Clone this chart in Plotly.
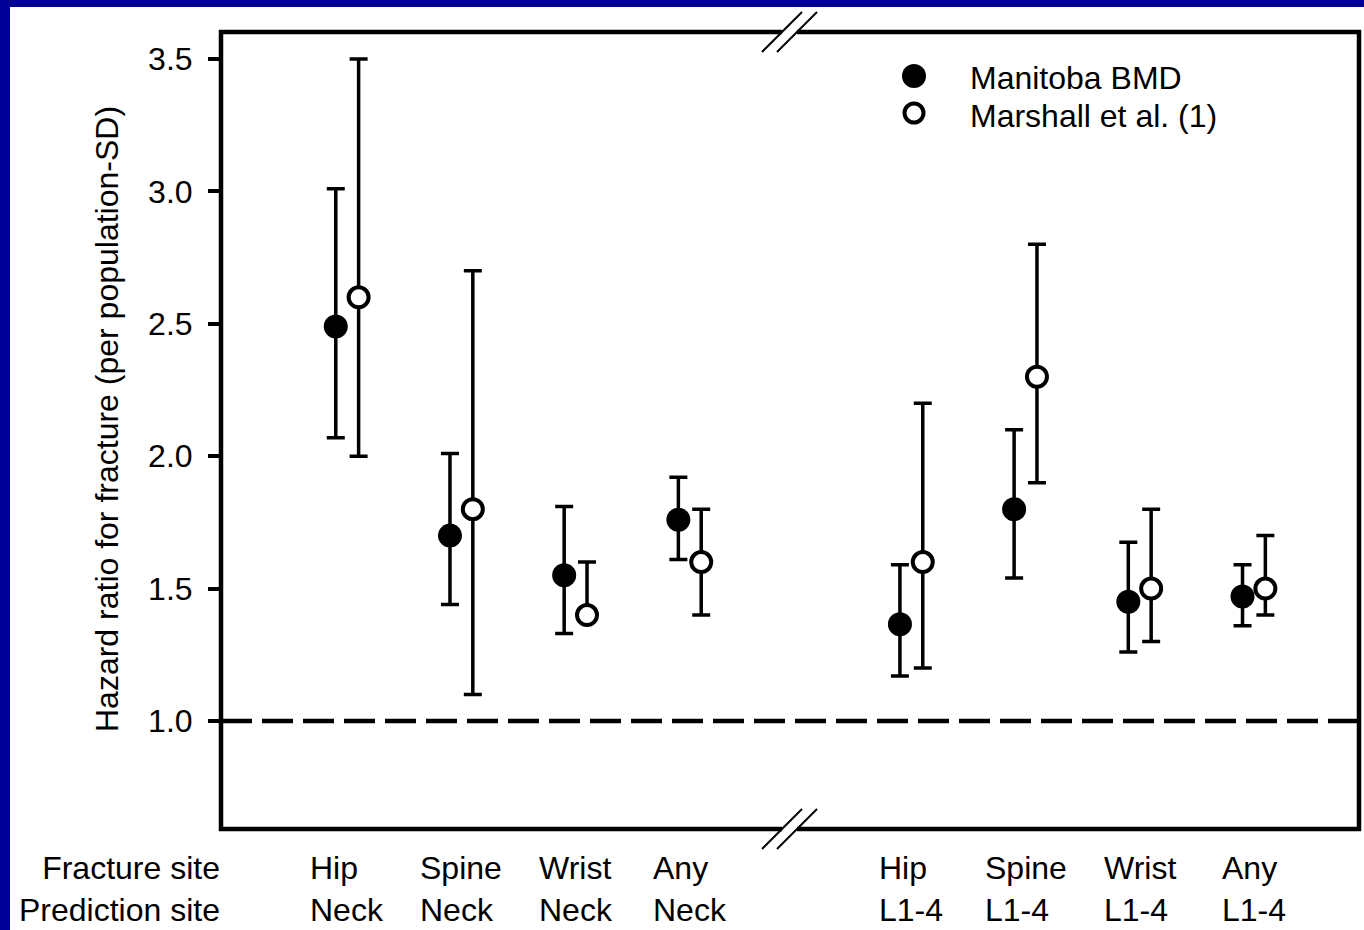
import plotly.graph_objects as go

# Hazard ratios per population-SD with 95% CI
fracture_site = ["Hip", "Spine", "Wrist", "Any", "Hip", "Spine", "Wrist", "Any"]
prediction_site = ["Neck", "Neck", "Neck", "Neck", "L1-4", "L1-4", "L1-4", "L1-4"]

manitoba_hr = [2.49, 1.70, 1.55, 1.76, 1.365, 1.80, 1.45, 1.47]
manitoba_lo = [2.07, 1.44, 1.33, 1.61, 1.17, 1.54, 1.26, 1.36]
manitoba_hi = [3.01, 2.01, 1.81, 1.92, 1.59, 2.10, 1.675, 1.59]

marshall_hr = [2.6, 1.8, 1.4, 1.6, 1.6, 2.3, 1.5, 1.5]
marshall_lo = [2.0, 1.1, 1.4, 1.4, 1.2, 1.9, 1.3, 1.4]
marshall_hi = [3.5, 2.7, 1.6, 1.8, 2.2, 2.8, 1.8, 1.7]

y_ticks = [1.0, 1.5, 2.0, 2.5, 3.0, 3.5]
series_names = ["Manitoba BMD", "Marshall et al. (1)"]

# ---- layout geometry (pixels) ----
W, H = 1364, 930
L, R, T, B = 221, 1359, 32, 829
FONT = dict(family="Liberation Sans, Arial, sans-serif", size=32, color="black")
BLUE = "#000099"

def px_x(p):
    return (p - L) / (R - L)

def px_y(p):
    return (B - p) / (B - T)

SECTION_GAP = 0.94
OFFSET = 0.1
pos = [i + (SECTION_GAP if prediction_site[i] == "L1-4" else 0.0)
       for i in range(len(fracture_site))]

fig = go.Figure()

fig.add_trace(go.Scatter(
    x=[p - OFFSET for p in pos], y=manitoba_hr, mode="markers",
    name=series_names[0],
    marker=dict(size=24, color="black", line=dict(width=0)),
    error_y=dict(type="data", symmetric=False,
                 array=[h - v for h, v in zip(manitoba_hi, manitoba_hr)],
                 arrayminus=[v - l for v, l in zip(manitoba_hr, manitoba_lo)],
                 color="black", thickness=3.5, width=9),
))
fig.add_trace(go.Scatter(
    x=[p + OFFSET for p in pos], y=marshall_hr, mode="markers",
    name=series_names[1],
    marker=dict(size=20, color="white", line=dict(width=4, color="black")),
    error_y=dict(type="data", symmetric=False,
                 array=[h - v for h, v in zip(marshall_hi, marshall_hr)],
                 arrayminus=[v - l for v, l in zip(marshall_hr, marshall_lo)],
                 color="black", thickness=3.5, width=9),
))

shapes = []
# reference line at HR = 1
shapes.append(dict(type="line", xref="paper", yref="y", x0=0, x1=1, y0=1.0, y1=1.0,
                   line=dict(color="black", width=4.5, dash="31px,10px"), layer="below"))

# frame with axis-break gap
BRK_L, BRK_R = 782, 797
lw = 4.5
for yy in (T, B):
    shapes.append(dict(type="line", xref="paper", yref="paper",
                       x0=px_x(L - 2), x1=px_x(BRK_L), y0=px_y(yy), y1=px_y(yy),
                       line=dict(color="black", width=lw)))
    shapes.append(dict(type="line", xref="paper", yref="paper",
                       x0=px_x(BRK_R), x1=px_x(R + 2), y0=px_y(yy), y1=px_y(yy),
                       line=dict(color="black", width=lw)))
    # double slash break marks
    for sx in (BRK_L, BRK_R):
        shapes.append(dict(type="line", xref="paper", yref="paper",
                           x0=px_x(sx - 20), y0=px_y(yy + 20),
                           x1=px_x(sx + 20), y1=px_y(yy - 20),
                           line=dict(color="black", width=2)))
for xx in (L, R):
    shapes.append(dict(type="line", xref="paper", yref="paper",
                       x0=px_x(xx), x1=px_x(xx), y0=px_y(T - 2), y1=px_y(B + 2),
                       line=dict(color="black", width=lw)))

# legend symbols
LEG_Y = (76, 113)
shapes.append(dict(type="circle", xref="paper", yref="paper",
                   x0=px_x(914 - 12), x1=px_x(914 + 12),
                   y0=px_y(LEG_Y[0] + 12), y1=px_y(LEG_Y[0] - 12),
                   fillcolor="black", line=dict(width=0)))
shapes.append(dict(type="circle", xref="paper", yref="paper",
                   x0=px_x(914 - 9.5), x1=px_x(914 + 9.5),
                   y0=px_y(LEG_Y[1] + 9.5), y1=px_y(LEG_Y[1] - 9.5),
                   fillcolor="white", line=dict(color="black", width=4)))

# slide border
shapes.append(dict(type="rect", xref="paper", yref="paper",
                   x0=px_x(0), x1=px_x(10), y0=px_y(H), y1=px_y(0),
                   fillcolor=BLUE, line=dict(width=0)))
shapes.append(dict(type="rect", xref="paper", yref="paper",
                   x0=px_x(0), x1=px_x(W), y0=px_y(7), y1=px_y(0),
                   fillcolor=BLUE, line=dict(width=0)))

annotations = []
# legend text
for name, yy in zip(series_names, (78, 116)):
    annotations.append(dict(text=name, xref="paper", yref="paper",
                            x=px_x(968), y=px_y(yy), xanchor="left", yanchor="middle",
                            showarrow=False, font=FONT))

# category labels under each pair
for p, fs, ps in zip(pos, fracture_site, prediction_site):
    annotations.append(dict(text=f"{fs}<br>{ps}", xref="x", yref="paper",
                            x=p, y=px_y(889), xanchor="center", yanchor="middle",
                            align="left", showarrow=False, font=FONT))
annotations.append(dict(text="Fracture site<br>Prediction site", xref="paper", yref="paper",
                        x=px_x(222), y=px_y(889), xanchor="right", yanchor="middle",
                        align="right", showarrow=False, font=FONT))

# y-axis title
annotations.append(dict(text="Hazard ratio for fracture (per population-SD)",
                        xref="paper", yref="paper", x=px_x(107), y=px_y(419),
                        xanchor="center", yanchor="middle", textangle=-90,
                        showarrow=False, font=FONT))

fig.update_layout(
    width=W, height=H,
    margin=dict(l=L, r=W - R, t=T, b=H - B, pad=0),
    paper_bgcolor="white", plot_bgcolor="white",
    showlegend=False,
    shapes=shapes, annotations=annotations,
    xaxis=dict(range=[-1.105, 8.86], showgrid=False, zeroline=False,
               showline=False, showticklabels=False, ticks=""),
    yaxis=dict(range=[0.592, 3.602], showgrid=False, zeroline=False, showline=False,
               tickvals=y_ticks, tickformat=".1f", ticks="outside",
               ticklen=12, tickwidth=4, tickcolor="black",
               ticklabelstandoff=9, tickfont=FONT),
)

fig.write_html("out.html")
